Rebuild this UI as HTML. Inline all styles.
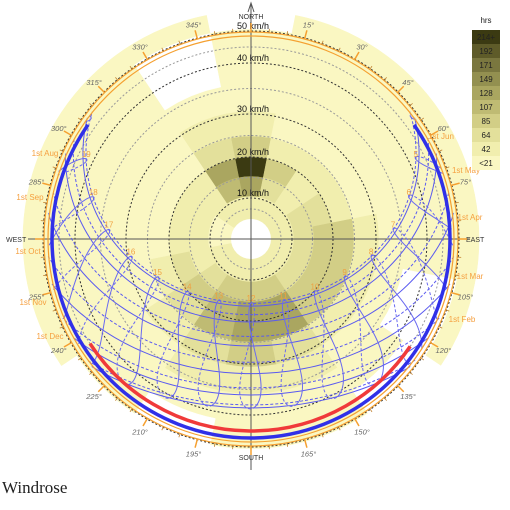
<!DOCTYPE html>
<html><head><meta charset="utf-8"><style>
body{margin:0;background:#fff;width:510px;height:510px;overflow:hidden}
svg{display:block}
text{font-family:"Liberation Sans",sans-serif}
</style></head><body>
<svg id="c" width="510" height="510" viewBox="0 0 510 510">
<g id="rose"></g>
<g id="grid"></g>
<g id="axes"></g>
<g id="sun"></g>
<g id="ring"></g>
<g id="legend"></g>
<text x="2" y="493" font-family="Liberation Serif" style="font-family:'Liberation Serif',serif" font-size="17" fill="#222">Windrose</text>
</svg>
<script>
// ---- data ----
const directions = ["N","NNE","NE","ENE","E","ESE","SE","SSE","S","SSW","SW","WSW","W","WNW","NW","NNW"];
const ringEdges = [20,43,63,82,103,128,155,183,210,228];
const freqN   = [2,6,10,4,2,1,1,1,0];
const freqNNE = [2,3,4,2,1,1,1,1,1];
const freqNE  = [2,2,2,2,1,1,1,1,1];
const freqENE = [2,3,3,2,1,1,1,1,1];
const freqE   = [2,3,4,4,2,1,1,1,1];
const freqESE = [2,3,4,4,2,1,0,0,1];
const freqSE  = [2,3,4,4,2,1,1,0,0];
const freqSSE = [2,4,6,6,3,2,1,1,0];
const freqS   = [2,4,6,6,4,2,1,1,0];
const freqSSW = [2,4,5,5,3,2,1,0,0];
const freqSW  = [2,3,4,3,2,1,1,1,0];
const freqWSW = [2,2,3,2,1,1,1,1,1];
const freqW   = [1,2,2,1,1,1,1,1,1];
const freqWNW = [1,2,2,1,1,1,1,1,1];
const freqNW  = [2,2,2,1,1,1,1,1,1];
const freqNNW = [2,5,6,3,2,1,0,0,1];
const freqs = [freqN,freqNNE,freqNE,freqENE,freqE,freqESE,freqSE,freqSSE,freqS,freqSSW,freqSW,freqWSW,freqW,freqWNW,freqNW,freqNNW];
const legendLabels = ["214+","192","171","149","128","107","85","64","42","<21"];
const speedLabels = ["10 km/h","20 km/h","30 km/h","40 km/h","50 km/h"];
const speedRadii = [41,82,125,176,208];
const latitude = 51.5;
const solidDecl = [-23.0,-17.3,-7.9,4.3,14.9,21.9];
const dashDecl = [23.1,18.1,8.5,-2.9,-14.2,-21.7];
const hours = [4,5,6,7,8,9,10,11,12,13,14,15,16,17,18,19,20];
const monthLabelsL = [["1st Aug",45,156],["1st Sep",30,200],["1st Oct",28,254],["1st Nov",33,305],["1st Dec",50,339]];
const monthLabelsR = [["1st Jun",441,139],["1st May",466,173],["1st Apr",470,220],["1st Mar",470,279],["1st Feb",462,322]];
// ---- helpers ----
const NS="http://www.w3.org/2000/svg";
const cx=251, cy=239, RH=204;
const pal=['#ffffff','#faf7c2','#f1eeae','#e3e09b','#d2ce86','#bfbb73','#aaa660','#939050','#7a773f','#5e5b29','#3b3a12'];
function el(tag,attrs,parent){const e=document.createElementNS(NS,tag);for(const k in attrs)e.setAttribute(k,attrs[k]);parent.appendChild(e);return e;}
function pt(az,r){const a=az*Math.PI/180;return [cx+r*Math.sin(a), cy-r*Math.cos(a)];}
// ---- wind rose ----
const rose=document.getElementById('rose');
freqs.forEach((f,i)=>{
  const a0=i*22.5-11.25, a1=i*22.5+11.25;
  f.forEach((v,j)=>{
    const r0=ringEdges[j], r1=ringEdges[j+1];
    const p1=pt(a0,r0),p2=pt(a0,r1),p3=pt(a1,r1),p4=pt(a1,r0);
    const p=el('path',{d:`M${p1}L${p2}A${r1},${r1} 0 0 1 ${p3}L${p4}A${r0},${r0} 0 0 0 ${p1}Z`,fill:pal[v],stroke:pal[v],'stroke-width':0.5},rose);
    
    
  });
});
el('circle',{cx,cy,r:20,fill:'#fff'},rose);
// ---- grid ----
const grid=document.getElementById('grid');
el('circle',{cx,cy,r:30,fill:'none',stroke:'#999','stroke-width':1,'stroke-dasharray':'2,2'},grid);
speedRadii.forEach((r,i)=>{
  const c=el('circle',{cx,cy,r,fill:'none',stroke:'#333','stroke-width':1,'stroke-dasharray':'2,2'},grid);
  
  
  const rp=i?speedRadii[i-1]:20;
  if(i>0) el('circle',{cx,cy,r:(r+rp)/2,fill:'none',stroke:'#999','stroke-width':1,'stroke-dasharray':'2,2'},grid);
  const t=el('text',{x:cx+2,y:cy-r-2,'text-anchor':'middle','font-size':9,fill:'#111'},grid);
  t.textContent=speedLabels[i];
  
  
});
// ---- axes ----
const axes=document.getElementById('axes');
el('line',{x1:cx,y1:4,x2:cx,y2:470,stroke:'#555','stroke-width':1},axes);
el('path',{d:`M${cx-3},12L${cx},3L${cx+3},12`,fill:'none',stroke:'#555'},axes);
el('line',{x1:28,y1:cy,x2:470,y2:cy,stroke:'#555','stroke-width':1},axes);
[["NORTH",cx,19,'middle'],["SOUTH",cx,460,'middle'],["WEST",6,242,'start'],["EAST",466,242,'start']].forEach(d=>{
  const t=el('text',{x:d[1],y:d[2],'text-anchor':d[3],'font-size':7,fill:'#333'},axes);t.textContent=d[0];
  
  
});
// ---- sun path ----
const sun=document.getElementById('sun');
const rad=Math.PI/180, phi=latitude*rad;
function sunPos(decl,H){
  const d=decl*rad,h=H*rad;
  const sa=Math.sin(phi)*Math.sin(d)+Math.cos(phi)*Math.cos(d)*Math.cos(h);
  const alt=Math.asin(sa)/rad;
  let az=Math.atan2(-Math.cos(d)*Math.sin(h), Math.sin(d)*Math.cos(phi)-Math.cos(d)*Math.cos(h)*Math.sin(phi))/rad;
  if(az<0)az+=360;
  return [alt,az];
}
function proj(alt,az){return pt(az,RH*(90-alt)/90);}
function datePath(decl,dash,name){
  let pts=[];
  for(let H=-180;H<=180;H+=2){const [alt,az]=sunPos(decl,H);if(alt>=-0.5)pts.push(proj(Math.max(alt,0),az));}
  const p=el('polyline',{points:pts.map(q=>q.join(',')).join(' '),fill:'none',stroke:'#5a5af0','stroke-width':1,'stroke-dasharray':dash?'3,2':'none'},sun);
  
  
}
solidDecl.forEach((d,i)=>datePath(d,false,'sun-date-path-'+i));
dashDecl.forEach((d,i)=>datePath(d,true,'sun-date-path-late-'+i));
function declOf(n){return 23.44*Math.sin(2*Math.PI*(284+n)/365);}
function eot(n){const B=2*Math.PI*(n-81)/364;return 9.87*Math.sin(2*B)-7.53*Math.cos(B)-1.5*Math.sin(B);}
hours.forEach(hr=>{
  [[0,182,false],[182,366,true]].forEach(([n0,n1,dash])=>{
    let segs=[],cur=[];
    for(let n=n0;n<=n1;n+=4){
      const st=hr+eot(n)/60;const [alt,az]=sunPos(declOf(n),(st-12)*15);
      if(alt>0)cur.push(proj(alt,az));else if(cur.length){segs.push(cur);cur=[];}
    }
    if(cur.length)segs.push(cur);
    segs.forEach(s=>{if(s.length<2)return;
      const p=el('polyline',{points:s.map(q=>q.join(',')).join(' '),fill:'none',stroke:'#6a6af0','stroke-width':1,'stroke-dasharray':dash?'3,2':'none'},sun);
      
      
    });
  });
  const [alt,az]=sunPos(23.2,(hr-12)*15);
  if(alt>3){const q=proj(alt,az);const t=el('text',{x:q[0],y:q[1]-2,'text-anchor':'middle','font-size':8,fill:'#f0a040'},sun);t.textContent=hr;
    
    }
});
function arc(a0,a1,r){const p0=pt(a0,r),p1=pt(a1,r);return `M${p0}A${r},${r} 0 ${a1-a0>180?1:0} 1 ${p1}`;}
const hb=el('path',{d:arc(55,305,199),fill:'none',stroke:'#3030e8','stroke-width':3.5},sun);


const rb=el('path',{d:arc(124,237,192),fill:'none',stroke:'#f03a3a','stroke-width':3.5},sun);


// ---- azimuth ring ----
const ring=document.getElementById('ring');
el('circle',{cx,cy,r:203,fill:'none',stroke:'#f5a030','stroke-width':1.2},ring);
el('circle',{cx,cy,r:207,fill:'none',stroke:'#f5a030','stroke-width':1.2},ring);
for(let a=0;a<360;a+=5){
  const L=a%15===0?9:4;const p0=pt(a,207),p1=pt(a,207+L);
  el('line',{x1:p0[0],y1:p0[1],x2:p1[0],y2:p1[1],stroke:a%15===0?'#f5a030':'#c08030','stroke-width':a%15===0?1.5:0.8},ring);
  if(a%15===0&&a%90!==0){
    const q=pt(a,222);const t=el('text',{x:q[0],y:q[1]+3,'text-anchor':'middle','font-size':7.5,'font-style':'italic',fill:'#666'},ring);
    t.textContent=a+'°';
    
    
  }
}
monthLabelsL.concat(monthLabelsR).forEach(m=>{
  const t=el('text',{x:m[1],y:m[2],'text-anchor':'middle','font-size':8,fill:'#f5a040'},ring);t.textContent=m[0];
  
  
});
// ---- legend ----
const lg=document.getElementById('legend');
const ht=el('text',{x:486,y:23,'text-anchor':'middle','font-size':8,fill:'#222'},lg);ht.textContent='hrs';


legendLabels.forEach((l,i)=>{
  const y=30+i*14;
  const r=el('rect',{x:472,y,width:28,height:14,fill:pal[10-i]},lg);
  
  
  const t=el('text',{x:486,y:y+10,'text-anchor':'middle','font-size':8,fill:'#222'},lg);t.textContent=l;
  
  
});
</script>
</body></html>
